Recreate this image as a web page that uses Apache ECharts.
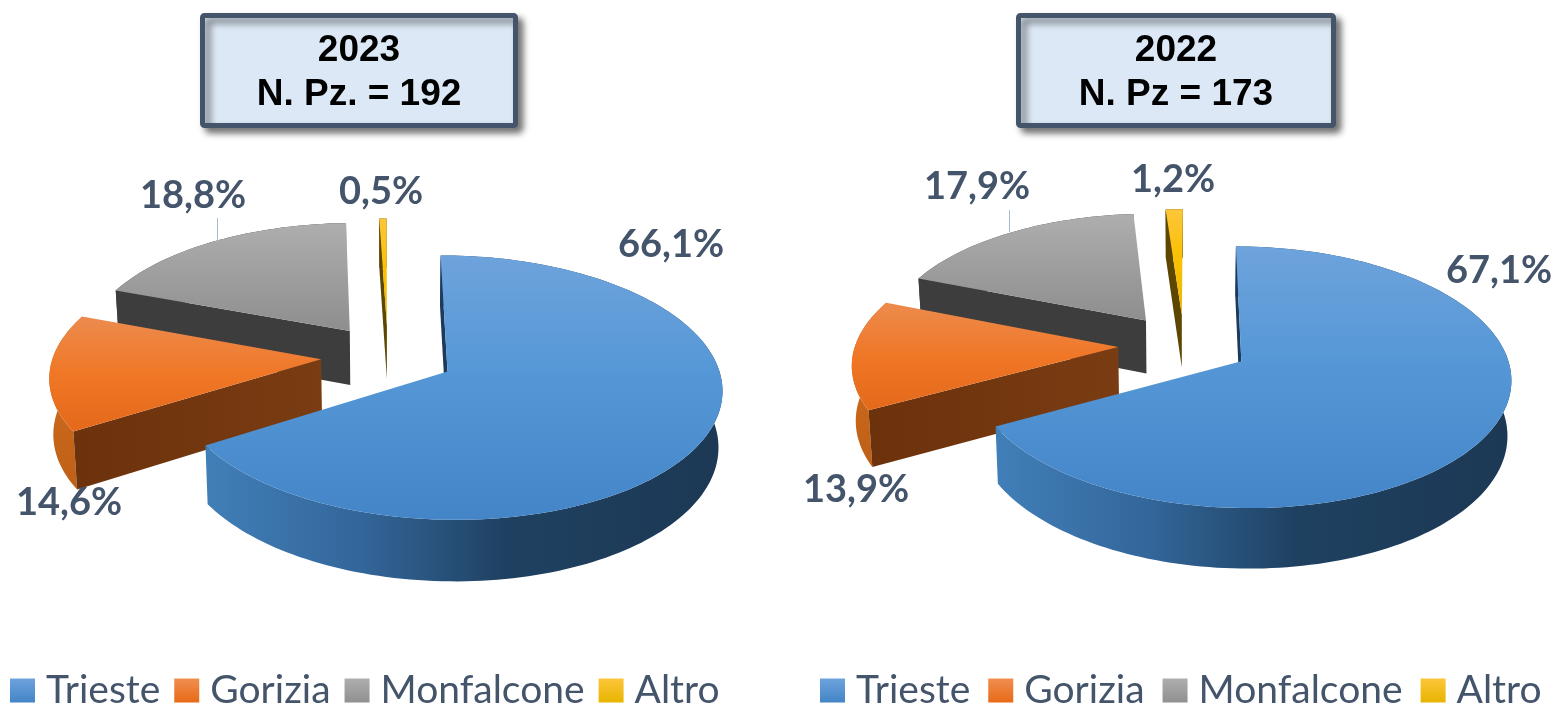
<!DOCTYPE html>
<html><head><meta charset="utf-8">
<style>html,body{margin:0;padding:0;background:#fff}#c{width:1557px;height:705px}</style>
<script src="https://cdn.jsdelivr.net/npm/echarts@6/dist/echarts.min.js"></script>
</head><body><div id="c"></div>
<script>
const categories = ['Trieste','Gorizia','Monfalcone','Altro'];
const values2023 = [66.1,14.6,18.8,0.5];
const values2022 = [67.1,13.9,17.9,1.2];
const titleLines2023 = ['2023','N. Pz. = 192'];
const titleLines2022 = ['2022','N. Pz = 173'];

const G = (x,y,x2,y2,st)=>new echarts.graphic.LinearGradient(x,y,x2,y2,st.map((c,i)=>({offset:c[0],color:c[1]})));
const styles = [
 {top:G(0,0,0,1,[[0,'#6ea3dc'],[.45,'#5597d6'],[1,'#4385c7']]),
  rim:G(0,0,1,0,[[0,'#417fb8'],[.3,'#33669a'],[.58,'#1f4161'],[1,'#1c3854']]), edge:'#1c3a5c',
  legend:G(0,0,0,1,[[0,'#6ea3dc'],[1,'#4385c7']])},
 {top:G(0,0,0,1,[[0,'#ec8b4e'],[.5,'#f07726'],[1,'#e4691b']]),
  rim:G(0,0,0,1,[[0,'#d4701f'],[1,'#bf6017']]), edge:G(0,0,1,0,[[0,'#6c320c'],[1,'#7a3c12']]),
  legend:G(0,0,0,1,[[0,'#f08e50'],[1,'#e86a18']])},
 {top:G(0,0,0,1,[[0,'#aeaeae'],[1,'#8e8e8e']]),
  rim:'#3d3d3d', edge:'#3d3d3d',
  legend:G(0,0,0,1,[[0,'#aeaeae'],[1,'#909090']])},
 {top:G(0,0,0,1,[[0,'#fcc63a'],[.5,'#fbc000'],[1,'#eeb600']]),
  rim:'#5c4600', edge:'#5c4600',
  legend:G(0,0,0,1,[[0,'#fcc63a'],[1,'#e8b400']])}
];

const charts = [
 {values:values2023, cx:388, cy:356, rx:268, ry:126.5, phi:-0.1, wall:55, box:[202.5,15.5,313,110], titles:titleLines2023,
  labels:[[671,245],[69,503],[193,196],[381,192]], leader:[217.5,218,242], legendLeft:5, gap:14},
 {values:values2022, cx:1184, cy:345, rx:263, ry:125, phi:0.2, wall:54, box:[1018.5,15.5,315,110], titles:titleLines2022,
  labels:[[1499,271],[856,490],[977,187],[1173,180]], leader:[1009.5,210,232], legendLeft:815, gap:18}
];
const explode = .25, persp = .12, shrink = .988, XR = 1.4, YR = 2;

const fmt = v=>v.toFixed(1).replace('.',',')+'%';

function renderSlice(ci, si){
 return function(params, api){
  const ch = charts[ci], vals = ch.values, sum = vals.reduce((a,b)=>a+b,0);
  let a0 = ch.phi; for(let i=0;i<si;i++) a0 += vals[i]/sum*360;
  const a1 = a0 + api.value(2)/sum*360, mid=(a0+a1)/2*Math.PI/180;
  const ax = explode*Math.sin(mid), ay = -explode*Math.cos(mid);
  const top = (X,Y)=>{const w=1-persp*Y; return api.coord([X/w,Y/w]);};
  const bot = (X,Y)=>{const w=1-persp*Y; return api.coord([X/w*shrink,Y/w*shrink+(ch.wall/ch.ry)/w]);};
  const rimPts=[]; const n=Math.max(2,Math.ceil((a1-a0)/1.5));
  for(let i=0;i<=n;i++){const t=(a0+(a1-a0)*i/n)*Math.PI/180; rimPts.push([ax+Math.sin(t),ay-Math.cos(t)]);}
  const st = styles[si], first=rimPts[0];
  const poly=(pts,fill)=>({type:'polygon',shape:{points:pts},style:{fill,stroke:null}});
  const kids=[];
  kids.push(poly(rimPts.map(p=>top(p[0],p[1])).concat(rimPts.slice().reverse().map(p=>bot(p[0],p[1]))),st.rim));
  kids.push(poly([top(ax,ay),top(first[0],first[1]),bot(first[0],first[1]),bot(ax,ay)],st.edge));
  kids.push(poly([top(ax,ay)].concat(rimPts.map(p=>top(p[0],p[1]))),st.top));
  const lab=ch.labels[si];
  kids.push({type:'text',z2:50,style:{text:fmt(api.value(2)),x:lab[0],y:lab[1],align:'center',verticalAlign:'middle',
    font:'bold 38px Lato',fill:'#44546a'}});
  if(si===2){ kids.push({type:'line',shape:{x1:ch.leader[0],y1:ch.leader[1],x2:ch.leader[0],y2:ch.leader[2]},style:{stroke:'#a9bdd0',lineWidth:1}}); }
  return {type:'group',children:kids};
 };
}

const grids=[],xAxes=[],yAxes=[],series=[],legends=[],graphics=[];
charts.forEach((ch,ci)=>{
 grids.push({left:ch.cx-XR*ch.rx,top:ch.cy-YR*ch.ry,width:2*XR*ch.rx,height:2*YR*ch.ry});
 xAxes.push({type:'value',gridIndex:ci,min:-XR,max:XR,show:false});
 yAxes.push({type:'value',gridIndex:ci,min:-YR,max:YR,inverse:true,show:false});
 [3,2,1,0].forEach(si=>{
  series.push({type:'custom',name:categories[si],coordinateSystem:'cartesian2d',xAxisIndex:ci,yAxisIndex:ci,
   data:[[0,0,ch.values[si]]],renderItem:renderSlice(ci,si),itemStyle:{color:styles[si].legend},silent:true,animation:false});
 });
 legends.push({left:ch.legendLeft,top:666,orient:'horizontal',width:760,icon:'rect',itemWidth:25,itemHeight:24,itemGap:ch.gap,
  data:categories,selectedMode:false,
  textStyle:{fontFamily:'Lato',fontSize:39,color:'#44546a',padding:[0,0,0,6]}});
 const b=ch.box;
 graphics.push({type:'rect',shape:{x:b[0],y:b[1],width:b[2],height:b[3],r:2},
  style:{fill:'#dce8f5',stroke:'#44546a',lineWidth:5,shadowBlur:7,shadowColor:'rgba(0,0,0,.5)',shadowOffsetX:5,shadowOffsetY:5}});
 ch.titles.forEach((t,i)=>graphics.push({type:'text',style:{text:t,x:b[0]+b[2]/2,y:51+i*44,align:'center',verticalAlign:'middle',
  font:'bold 37px "Liberation Sans"',fill:'#000'}}));
});
const chart=echarts.init(document.getElementById('c'),null,{renderer:'canvas'});
chart.setOption({animation:false,backgroundColor:'#fff',grid:grids,xAxis:xAxes,yAxis:yAxes,series,legend:legends,graphic:graphics});
</script></body></html>
